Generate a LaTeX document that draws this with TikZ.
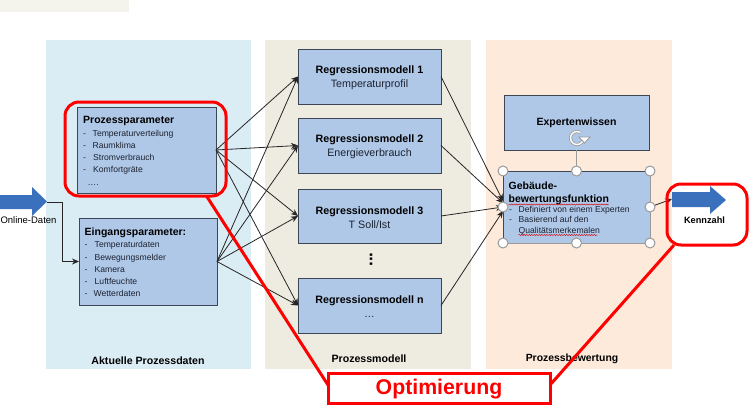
\documentclass[tikz,border=0pt]{standalone}
\usepackage{fontspec}
\setmainfont{Liberation Sans}
\usetikzlibrary{arrows.meta,decorations.pathmorphing}
\definecolor{boxblue}{HTML}{AFC8E8}
\definecolor{boxedge}{HTML}{3C4654}
\definecolor{panelblue}{HTML}{DBEDF4}
\definecolor{panelbeige}{HTML}{EEECE1}
\definecolor{panelorange}{HTML}{FDEADA}
\definecolor{strip}{HTML}{F4F4EC}
\definecolor{arrowblue}{HTML}{3A70BC}
\definecolor{handlegray}{HTML}{9A9A9A}
\definecolor{itemtext}{HTML}{1C2230}
\tikzset{
  boxnode/.style={draw=boxedge,line width=1pt,fill=boxblue,inner sep=0pt,outer sep=0pt,align=center,text=black,font=\fontsize{10.7}{14}\selectfont},
  panel/.style={inner sep=0pt,outer sep=0pt},
  head/.style={anchor=base west,inner sep=0pt,font=\fontsize{10.5}{13}\selectfont\bfseries},
  itm/.style={anchor=base west,inner sep=0pt,text=itemtext,font=\fontsize{8.6}{11}\selectfont},
  caption/.style={inner sep=0pt,font=\fontsize{10.6}{12}\selectfont\bfseries},
  link/.style={draw=black!85,line width=.8pt,-{Stealth[length=7pt,width=6pt]}},
  redbox/.style={draw=red,line width=3pt,rounded corners=14pt,inner sep=0pt,outer sep=0pt},
  redline/.style={draw=red,line width=3pt},
  handle/.style={circle,draw=handlegray,fill=white,line width=1pt,minimum size=10pt,inner sep=0pt},
  wavy/.style={draw=red!85!black,line width=.5pt,decorate,decoration={snake,amplitude=.5pt,segment length=2.5pt}},
  blockarrow/.style={fill=arrowblue,draw=none},
}
\begin{document}
\begin{tikzpicture}[x=1pt,y=-1pt]
\useasboundingbox (0,0) rectangle (756,415);
% strip and panels
\fill[strip] (0,0) rectangle (129,12);
\node[panel,fill=panelblue,minimum width=205pt,minimum height=329pt] (p1) at (148.5,204.5) {};
\node[panel,fill=panelbeige,minimum width=206pt,minimum height=329pt] (p2) at (368,204.5) {};
\node[panel,fill=panelorange,minimum width=186pt,minimum height=329pt] (p3) at (579,204.5) {};
% boxes
\node[boxnode,minimum width=139pt,minimum height=86pt] (proz) at (146.5,150) {};
\node[boxnode,minimum width=138pt,minimum height=87pt] (eing) at (148,261.5) {};
\node[boxnode,minimum width=143pt,minimum height=55pt] (r1) at (369.5,76.5) {};
\node[boxnode,minimum width=143pt,minimum height=55pt] (r2) at (369.5,145.5) {};
\node[boxnode,minimum width=143pt,minimum height=54pt] (r3) at (369.5,216) {};
\node[boxnode,minimum width=143pt,minimum height=55pt] (rn) at (369.5,305.5) {};
\node[inner sep=0pt,align=center,font=\fontsize{10.7}{14}\selectfont] (r1t) at (369.5,78) {\textbf{Regressionsmodell 1}\\\color{itemtext}Temperaturprofil};
\node[inner sep=0pt,align=center,font=\fontsize{10.7}{14}\selectfont] (r2t) at (369.5,147) {\textbf{Regressionsmodell 2}\\\color{itemtext}Energieverbrauch};
\node[inner sep=0pt,align=center,font=\fontsize{10.7}{14}\selectfont] (r3t) at (369.5,217.5) {\textbf{Regressionsmodell 3}\\\color{itemtext}T Soll/Ist};
\node[inner sep=0pt,align=center,font=\fontsize{10.7}{14}\selectfont] (rnt) at (369.5,307) {\textbf{Regressionsmodell n}\\\color{itemtext}…};
\node[boxnode,minimum width=145pt,minimum height=55pt] (exp) at (576.5,122.5) {};
\node[inner sep=0pt,font=\fontsize{10.5}{13}\selectfont\bfseries] (exptext) at (576.5,123) {Expertenwissen};
\node[boxnode,draw=handlegray,minimum width=147pt,minimum height=72pt] (geb) at (576.5,207) {};
\draw[boxedge,line width=1pt] (geb.north west) -- (geb.north east);
\draw[boxedge,line width=1pt] (geb.north west) -- (geb.south west);
% vertical dots
\node[inner sep=0pt,font=\fontsize{17}{17}\selectfont\bfseries] (vd) at (371,259.5) {\rotatebox{90}{...}};
% texts in left boxes
\node[head] (t1) at (83,123.5) {Prozessparameter};
\node[itm] (a1) at (83,136) {-}; \node[itm] (a1t) at (92.5,136) {Temperaturverteilung};
\node[itm] (a2) at (83,148.5) {-}; \node[itm] (a2t) at (92.5,148.5) {Raumklima};
\node[itm] (a3) at (83,160) {-}; \node[itm] (a3t) at (93,160) {Stromverbrauch};
\node[itm] (a4) at (83,172) {-}; \node[itm] (a4t) at (93,172) {Komfortgräte};
\node[itm] (a5) at (87.5,185.5) {….};
\node[head] (t2) at (84.5,235) {Eingangsparameter:};
\node[itm] (b1) at (84.5,247.5) {-}; \node[itm] (b1t) at (94.5,247.5) {Temperaturdaten};
\node[itm] (b2) at (84.5,260) {-}; \node[itm] (b2t) at (94.5,260) {Bewegungsmelder};
\node[itm] (b3) at (84.5,272) {-}; \node[itm] (b3t) at (94.5,272) {Kamera};
\node[itm] (b4) at (84.5,284) {-}; \node[itm] (b4t) at (94.5,284) {Luftfeuchte};
\node[itm] (b5) at (84.5,296) {-}; \node[itm] (b5t) at (93.5,296) {Wetterdaten};
% Gebaeude text
\node[head] (g1) at (508.5,189) {Gebäude-};
\node[head] (g2) at (508.5,202) {bewertungsfunktion};
\node[itm] (g3) at (509,212) {-}; \node[itm] (g3t) at (518.5,212) {Definiert von einem Experten};
\node[itm] (g4) at (509,222.5) {-}; \node[itm] (g4t) at (518.5,222.5) {Basierend auf den};
\node[itm] (g5t) at (518.5,233) {Qualitätsmerkemalen};
\draw[wavy] (g2.base west)++(0,2.5) -- ++(100,0);
\draw[wavy] (g5t.base west)++(0,2) -- ++(79,0);
% blue arrows
\fill[blockarrow] (0,195) -- (32,195) -- (32,187) -- (47,201.5) -- (32,216) -- (32,209) -- (0,209) -- cycle;
\coordinate (arrowtip) at (47,202);
\node[inner sep=0pt,font=\fontsize{9.5}{11}\selectfont] (online) at (28.5,220.5) {Online-Daten};
\fill[blockarrow] (672,192) -- (710,192) -- (710,186) -- (726,200) -- (710,214) -- (710,207) -- (672,207) -- cycle;
\coordinate (kenntail) at (672,199);
\node[inner sep=0pt,font=\fontsize{9.2}{11}\selectfont\bfseries] (kenn) at (704.5,220) {Kennzahl};
% captions
\node[caption] (c1) at (148,360.5) {Aktuelle Prozessdaten};
\node[caption] (c2) at (369,358.5) {Prozessmodell};
\node[caption,font=\fontsize{10.4}{12}\selectfont\bfseries] (c3) at (572,359) {Prozessbewertung};
% connectors
\draw[link] (arrowtip) -- (62.5,202) -- (62.5,261.5) -- (eing.west);
\foreach \s in {proz,eing}{
  \foreach \t in {r1,r2,r3,rn}{
    \draw[link] (\s.east) -- (\t.west);
  }
}
\draw[link] (r1.east) -- ([yshift=6pt]geb.west);
\draw[link] (r2.east) -- ([yshift=4pt]geb.west);
\draw[link] (r3.east) -- (geb.west);
\draw[link] (rn.east) -- ([yshift=-4pt]geb.west);
\draw[draw=handlegray,line width=.8pt] (exp.south) -- (geb.north);
\draw[link] (geb.east) -- (kenntail);
% selection handles
\foreach \n/\a in {h1/north west,h2/north,h3/north east,h4/west,h5/east,h6/south west,h7/south,h8/south east}{
  \node[handle] (\n) at (geb.\a) {};
}
% rotate icon
\draw[handlegray,line width=3pt] (583.5,138) arc[start angle=0,end angle=-300,radius=6.5pt];
\draw[white,line width=1.4pt] (583.5,138) arc[start angle=0,end angle=-300,radius=6.5pt];
\fill[white,draw=handlegray,line width=.8pt] (579,137) -- (590,137) -- (584.5,143) -- cycle;
% red overlays
\node[redbox,minimum width=161pt,minimum height=94pt] (pr) at (145.5,149) {};
\node[redbox,minimum width=80pt,minimum height=61pt] (kr) at (707,214.5) {};
\node[draw=red,line width=3pt,fill=white,inner sep=0pt,outer sep=0pt,minimum width=222pt,minimum height=30pt] (opt) at (439,388) {};
\node[inner sep=0pt,text=red,font=\fontsize{21.3}{24}\selectfont\bfseries] (optt) at (439,389.5) {Optimierung};
\draw[redline] ([xshift=61pt]pr.south) -- ([yshift=3pt]opt.west);
\draw[redline] ([yshift=3pt]opt.east) -- ([xshift=7pt]kr.south west);
\end{tikzpicture}
\end{document}
